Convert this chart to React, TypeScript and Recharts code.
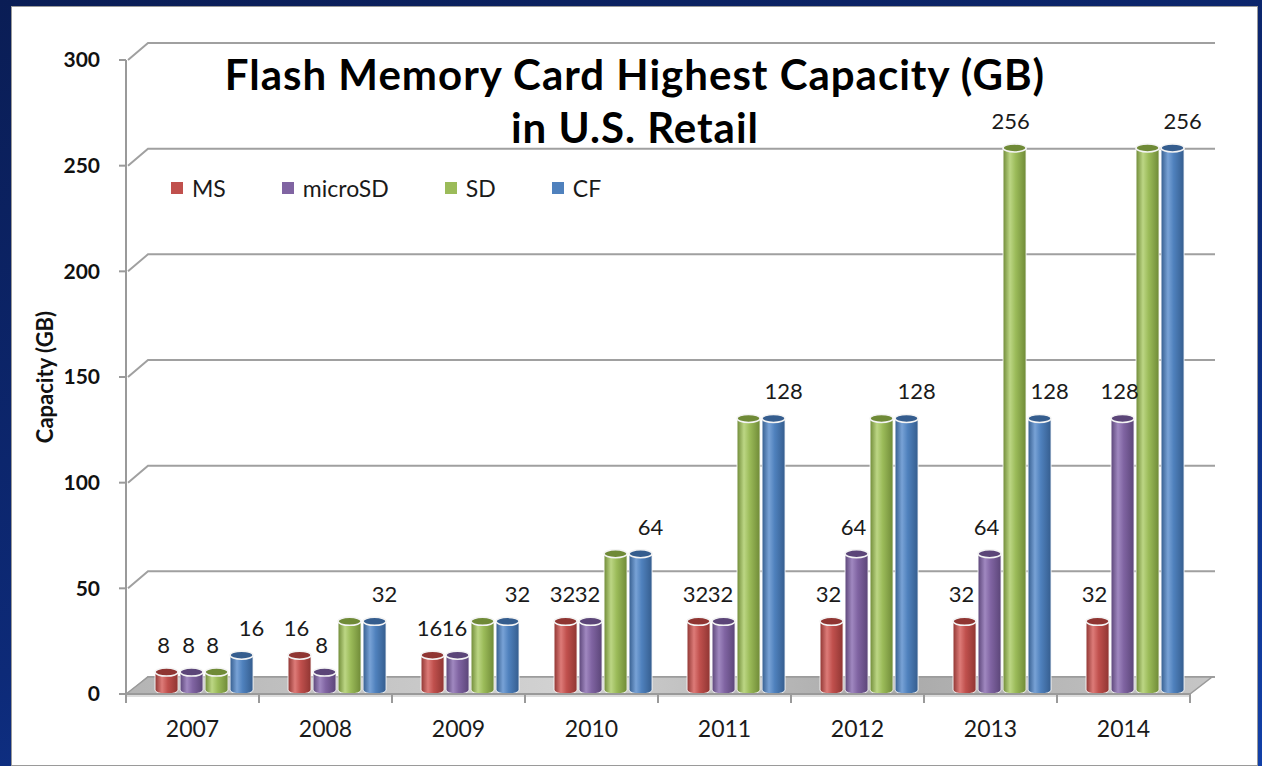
import React from 'react';
import { Bar, BarChart, CartesianGrid, LabelList, Legend, ReferenceArea, XAxis, YAxis } from 'recharts';

const years = ['2007', '2008', '2009', '2010', '2011', '2012', '2013', '2014'];
const msCap = [8, 16, 16, 32, 32, 32, 32, 32];
const microSdCap = [8, 8, 16, 32, 32, 64, 64, 128];
const sdCap = [8, 32, 32, 64, 128, 128, 256, 256];
const cfCap = [16, 32, 32, 64, 128, 128, 128, 256];
const yTicks = [0, 50, 100, 150, 200, 250, 300];

const data = years.map((year, i) => ({
  year,
  ms: msCap[i],
  microSd: microSdCap[i],
  sd: sdCap[i],
  cf: cfCap[i],
}));

const series = [
  { key: 'ms', name: 'MS', color: '#C0504D', dark: '#8f3532', light: '#dd7b78', labelDx: -3 },
  { key: 'microSd', name: 'microSD', color: '#8064A2', dark: '#5b4578', light: '#a088c0', labelDx: -3 },
  { key: 'sd', name: 'SD', color: '#9BBB59', dark: '#6f8a37', light: '#bcd684', labelDx: -4 },
  { key: 'cf', name: 'CF', color: '#4F81BD', dark: '#355d8e', light: '#78a2d6', labelDx: 10 },
];

// fake 3d: bars sit half way into the floor, back wall is offset by DX/DY
const DX = 22;
const DY = 17;
const FONT = 'Lato, "Open Sans", sans-serif';

type S = (typeof series)[number];

function Cylinder(props: any) {
  const { x, y, width, height, s } = props as { x: number; y: number; width: number; height: number; s: S };
  if (width == null || height == null) return null;
  const bx = x + DX / 2 + 0.5;
  const w = width - 1;
  const rx = w / 2;
  const ry = 4;
  const top = y - 5;
  const bot = y + height - 4;
  const gid = `cyl-${s.key}`;
  return (
    <g>
      <defs>
        <linearGradient id={gid} x1="0" y1="0" x2="1" y2="0">
          <stop offset="0%" stopColor={s.dark} />
          <stop offset="30%" stopColor={s.light} />
          <stop offset="55%" stopColor={s.color} />
          <stop offset="100%" stopColor={s.dark} />
        </linearGradient>
      </defs>
      <path
        d={`M${bx},${top} L${bx},${bot} A${rx},${ry} 0 0 0 ${bx + w},${bot} L${bx + w},${top} Z`}
        fill={`url(#${gid})`}
        stroke="#ffffff"
        strokeOpacity={0.85}
        strokeWidth={1}
      />
      <ellipse cx={bx + rx} cy={top} rx={rx} ry={ry} fill={s.dark} stroke="#f4f4f4" strokeWidth={1.5} />
    </g>
  );
}

function makeLabel(s: S) {
  return (props: any) => {
    const vb = props.viewBox ?? props;
    const { index, value } = props;
    if (s.key === 'sd' && sdCap[index] === cfCap[index]) return null;
    const cx = vb.x + DX / 2 + vb.width / 2 + s.labelDx;
    return (
      <text x={cx} y={vb.y - 24} textAnchor="middle" fontFamily={FONT} fontSize={22} fill="#1a1a1a">
        {value}
      </text>
    );
  };
}

function GridLine(props: any) {
  const { x1, y1, x2 } = props;
  return (
    <path
      d={`M${x1 + 2},${y1} L${x1 + DX},${y1 - DY} L${x2 + DX + 3},${y1 - DY}`}
      fill="none"
      stroke="#a0a0a0"
      strokeWidth={2}
    />
  );
}

function Floor(props: any) {
  const { x, y, width, height } = props;
  const L = x;
  const R = x + width;
  const b = y + height;
  return (
    <g>
      <defs>
        <linearGradient id="floor" x1="0" y1="0" x2="1" y2="0">
          <stop offset="0%" stopColor="#b4b4b4" />
          <stop offset="40%" stopColor="#d2d2d2" />
          <stop offset="70%" stopColor="#a9a9a9" />
          <stop offset="100%" stopColor="#c6c6c6" />
        </linearGradient>
      </defs>
      <path d={`M${L},${b} L${L + DX},${b - DY} L${R + DX},${b - DY} L${R},${b} Z`} fill="url(#floor)" stroke="#9a9a9a" strokeWidth={1.5} />
      <path d={`M${L},${b} L${R},${b} L${R},${b + 3} L${L},${b + 3} Z`} fill="#dcdcdc" />
    </g>
  );
}

function YearTick(props: any) {
  const { x, y, payload, index } = props;
  const half = payload?.offset ?? 66.5;
  const last = index === years.length - 1;
  return (
    <g>
      <line x1={x - half} y1={y - 8} x2={x - half} y2={y + 1} stroke="#9a9a9a" strokeWidth={2} />
      {last && <line x1={x + half} y1={y - 8} x2={x + half} y2={y + 1} stroke="#9a9a9a" strokeWidth={2} />}
      <text x={x} y={y + 35} textAnchor="middle" fontFamily={FONT} fontSize={23} fill="#1a1a1a">
        {payload.value}
      </text>
    </g>
  );
}

function LegendRow() {
  return (
    <div style={{ display: 'flex', alignItems: 'center', fontFamily: FONT, fontSize: 23, color: '#1a1a1a' }}>
      {series.map((s) => (
        <div key={s.key} style={{ display: 'flex', alignItems: 'center', marginRight: 56 }}>
          <span style={{ width: 12, height: 12, background: s.color, display: 'inline-block', marginRight: 9 }} />
          <span>{s.name}</span>
        </div>
      ))}
    </div>
  );
}

export default function App() {
  return (
    <div
      style={{
        position: 'absolute',
        left: 0,
        top: 0,
        width: 1262,
        height: 766,
        overflow: 'hidden',
        background: 'linear-gradient(160deg, #0a1d55 0%, #0d2a78 55%, #1240a8 100%)',
      }}
    >
      <div
        style={{
          position: 'absolute',
          left: 11,
          top: 6,
          width: 1245,
          height: 758,
          background: '#ffffff',
          border: '1px solid #9a9a9a',
        }}
      />
      <div style={{ position: 'absolute', left: 0, top: 0 }}>
        <BarChart
          width={1262}
          height={766}
          data={data}
          margin={{ top: 60, right: 72, bottom: 42, left: 76 }}
          barCategoryGap="13.2%"
          barGap={1}
        >
          <CartesianGrid vertical={false} horizontal={(p: any) => <GridLine key={`g-${p.index}-${p.y1}`} {...p} />} />
          <ReferenceArea y1={0} y2={8} ifOverflow="visible" shape={(p: any) => <Floor {...p} />} />
          <XAxis
            dataKey="year"
            height={30}
            tickLine={false}
            axisLine={{ stroke: '#9a9a9a', strokeWidth: 2 }}
            tick={<YearTick />}
            interval={0}
          />
          <YAxis
            width={50}
            domain={[0, 300]}
            ticks={yTicks}
            tickSize={7}
            tickMargin={19}
            axisLine={{ stroke: '#9a9a9a', strokeWidth: 2 }}
            tickLine={{ stroke: '#9a9a9a', strokeWidth: 2 }}
            tick={{ fontFamily: FONT, fontSize: 21, fontWeight: 700, fill: '#111' }}
            label={{
              value: 'Capacity (GB)',
              angle: -90,
              position: 'center',
              dx: -56,
              style: { fontFamily: FONT, fontSize: 22, fontWeight: 700, fill: '#111' },
            }}
          />
          <Legend
            content={<LegendRow />}
            layout="horizontal"
            verticalAlign="middle"
            wrapperStyle={{ left: 171, top: 174, width: 'auto' }}
          />
          {series.map((s) => (
            <Bar
              key={s.key}
              dataKey={s.key}
              name={s.name}
              fill={s.color}
              isAnimationActive={false}
              shape={(p: any) => <Cylinder {...p} s={s} />}
            >
              <LabelList dataKey={s.key} content={makeLabel(s)} />
            </Bar>
          ))}
        </BarChart>
      </div>
      <svg width={1262} height={766} style={{ position: 'absolute', left: 0, top: 0, pointerEvents: 'none' }}>
        <text x={635} y={90} textAnchor="middle" fontFamily={FONT} fontWeight={700} fontSize={42} letterSpacing={1} fill="#000">
          Flash Memory Card Highest Capacity (GB)
        </text>
        <text x={635} y={143} textAnchor="middle" fontFamily={FONT} fontWeight={700} fontSize={42} letterSpacing={1} fill="#000">
          in U.S. Retail
        </text>
      </svg>
    </div>
  );
}
